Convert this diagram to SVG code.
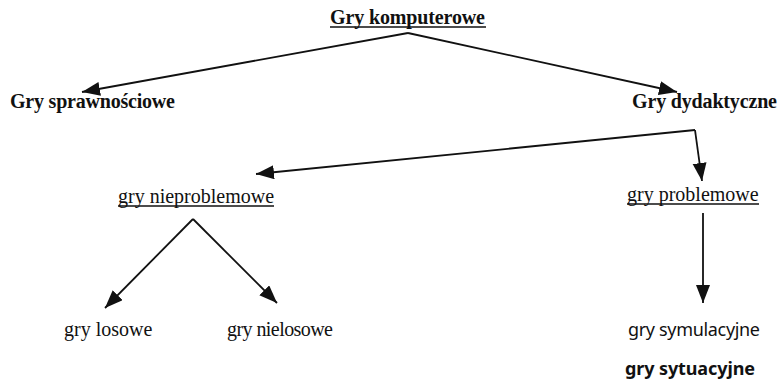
<svg xmlns="http://www.w3.org/2000/svg" width="780" height="382" viewBox="0 0 780 382">
  <style>
    .lbl { font-family: "Liberation Serif", "Times New Roman", serif; font-size: 20px; fill: #111; }
    .bold { font-weight: bold; }
    .sans { font-family: "Noto Sans", "DejaVu Sans", sans-serif; font-size: 18px; fill: #111; }
    .ul { stroke: #111; stroke-width: 1.3; }
    .edge { fill: none; stroke: #111; stroke-width: 1.8; }
  </style>
  <defs>
    <marker id="head" markerUnits="userSpaceOnUse" markerWidth="20" markerHeight="16" refX="18" refY="7" orient="auto">
      <path d="M0,0 L18,7 L0,14 z" fill="#111"/>
    </marker>
  </defs>

  <rect width="780" height="382" fill="#fff"/>

  <g id="connectors">
    <path class="edge" d="M408,33 L82,92" marker-end="url(#head)"/>
    <path class="edge" d="M408,33 L677,92" marker-end="url(#head)"/>
    <path class="edge" d="M695,130 L256,174" marker-end="url(#head)"/>
    <path class="edge" d="M695,130 L702,181" marker-end="url(#head)"/>
    <path class="edge" d="M193,219 L105,308" marker-end="url(#head)"/>
    <path class="edge" d="M193,219 L277,303" marker-end="url(#head)"/>
    <path class="edge" d="M703,213 L703,303" marker-end="url(#head)"/>
  </g>

  <g id="gry-komputerowe">
    <text class="lbl bold" x="330" y="24" textLength="155">Gry komputerowe</text>
    <line class="ul" x1="330" y1="27" x2="486" y2="27"/>
  </g>
  <g id="gry-sprawnosciowe">
    <text class="lbl bold" x="10" y="108" textLength="165">Gry sprawnościowe</text>
  </g>
  <g id="gry-dydaktyczne">
    <text class="lbl bold" x="632" y="108" textLength="145">Gry dydaktyczne</text>
  </g>
  <g id="gry-nieproblemowe">
    <text class="lbl" x="118" y="203">gry nieproblemowe</text>
    <line class="ul" x1="118" y1="206" x2="274" y2="206"/>
  </g>
  <g id="gry-problemowe">
    <text class="lbl" x="627" y="201">gry problemowe</text>
    <line class="ul" x1="627" y1="204" x2="759" y2="204"/>
  </g>
  <g id="gry-losowe">
    <text class="lbl" x="64" y="336">gry losowe</text>
  </g>
  <g id="gry-nielosowe">
    <text class="lbl" x="227" y="336" textLength="106">gry nielosowe</text>
  </g>
  <g id="gry-symulacyjne">
    <text class="sans" x="628" y="336" textLength="132">gry symulacyjne</text>
  </g>
  <g id="gry-sytuacyjne">
    <text class="sans bold" x="625" y="375" textLength="130">gry sytuacyjne</text>
  </g>
</svg>
